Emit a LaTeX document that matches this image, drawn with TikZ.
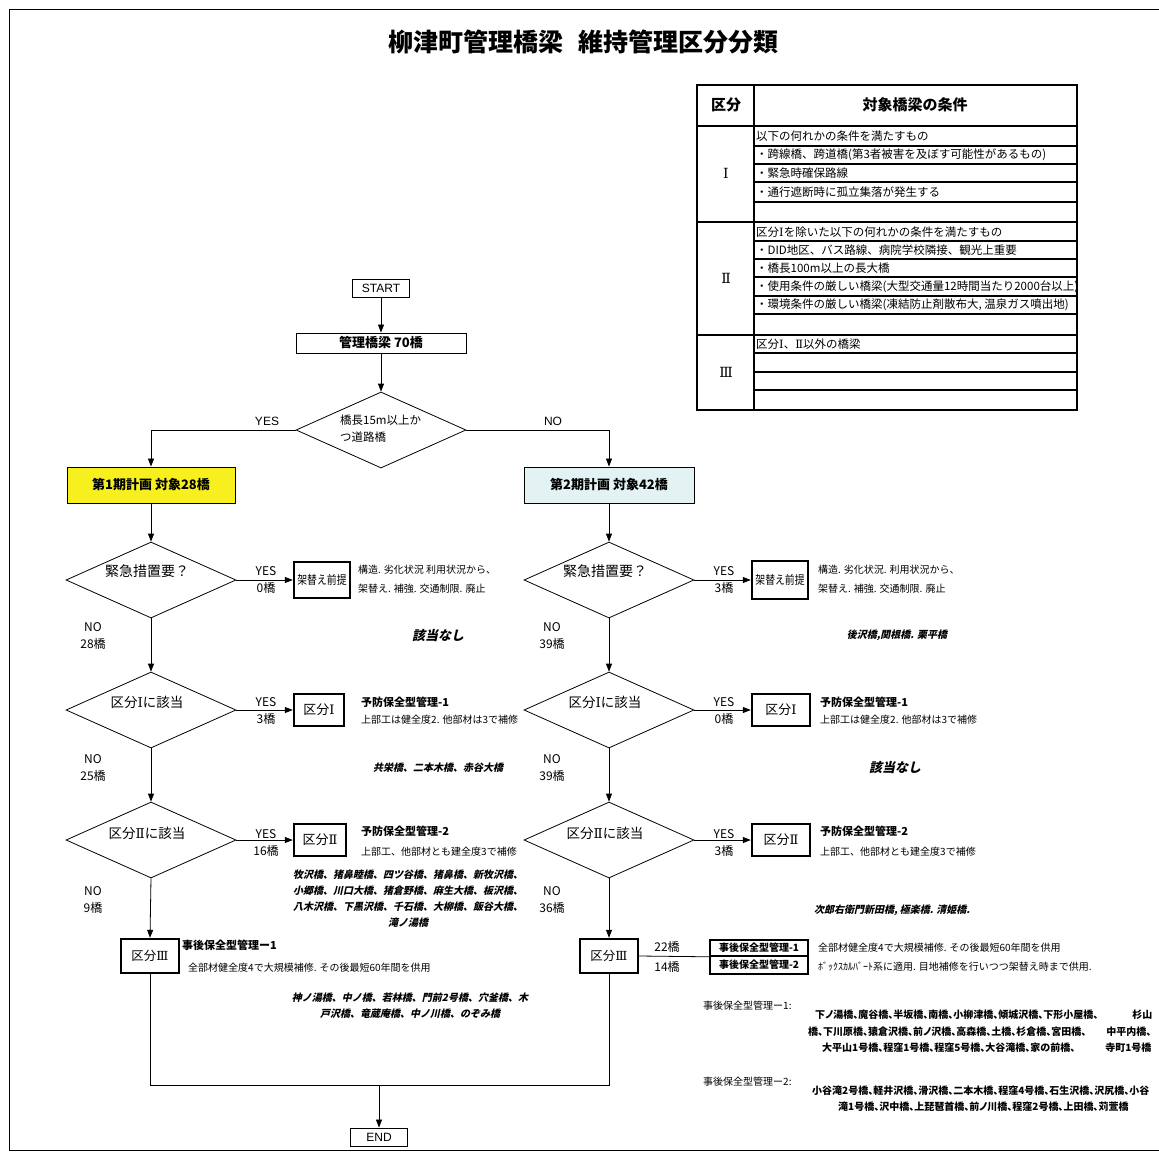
\documentclass[tikz,border=0pt]{standalone}
\usepackage{fontspec}
\setmainfont{Noto Sans CJK JP}
\newfontfamily\jpsl{Noto Sans CJK JP}[FakeSlant=0.22]
\newfontfamily\jpn{Noto Sans CJK JP}[FakeStretch=0.82]
\newfontfamily\jpp{Noto Sans CJK JP}[RawFeature=+palt]
\newfontfamily\rom{DejaVu Serif}
\newfontfamily\lat{Liberation Sans}
\usetikzlibrary{shapes.geometric,arrows.meta}
\definecolor{yel}{HTML}{F7F01E}
\definecolor{cyanl}{HTML}{E3F3F3}
\newcommand{\fz}[1]{\fontsize{#1}{#1}\selectfont}
\newcommand{\RI}{{\rom Ⅰ}}
\newcommand{\RII}{{\rom Ⅱ}}
\newcommand{\RIII}{{\rom Ⅲ}}
\begin{document}
\begin{tikzpicture}[x=1pt,y=-1pt,
 box/.style={draw, line width=0.9pt, inner sep=0pt},
 tbox/.style={draw, line width=2.4pt, inner sep=0pt},
 dia/.style={draw, diamond, line width=0.8pt, minimum width=170pt, minimum height=76pt, inner sep=0pt},
 arr/.style={-{Triangle[length=8pt,width=6pt]}, line width=0.8pt},
 ln/.style={line width=0.8pt},
 txt/.style={inner sep=0pt, anchor=west, align=left},
 ctxt/.style={inner sep=0pt, align=center},
 lbl/.style={inner sep=0pt, align=center, font=\fontsize{12}{17.5}\selectfont},
 rowt/.style={inner sep=0pt, anchor=west, font=\fz{11.5}},
 tl/.style={line width=1.3pt},
 tk/.style={line width=2.2pt},
 ital/.style={inner sep=0pt, align=center, font=\jpsl\bfseries\fontsize{10}{16}\selectfont},
 blist/.style={inner sep=0pt, anchor=west, font=\jpp\bfseries\fz{10}},
]
\useasboundingbox (0,0) rectangle (1159,1159);
\fill[white] (0,0) rectangle (1159,1159);
\draw[line width=1pt] (9,9) rectangle (1180,1150);

% title
\node[ctxt, font=\fz{25}\bfseries] (title) at (583,42) {柳津町管理橋梁\hspace{0.6em}維持管理区分分類};

% table
\draw[tk] (697,85) rectangle (1077,410);
\draw[tk] (697,126) -- (1077,126);
\draw[tk] (754,85) -- (754,410);
\draw[tk] (697,222) -- (1077,222);
\draw[tk] (697,335) -- (1077,335);
\foreach \yy in {146,164,182,202,241,259,277,296,314,353,372,390}
  \draw[tl] (754,\yy) -- (1077,\yy);
\node[ctxt, font=\fz{15}\bfseries] (hk) at (726,105) {区分};
\node[ctxt, font=\fz{15}\bfseries] (hj) at (915,105) {対象橋梁の条件};
\node[ctxt, font=\fz{14}] (s1) at (726,173) {\RI};
\node[ctxt, font=\fz{14}] (s2) at (726,278) {\RII};
\node[ctxt, font=\fz{14}] (s3) at (726,372) {\RIII};
\node[rowt] (r11) at (756,136) {以下の何れかの条件を満たすもの};
\node[rowt] (r12) at (756,155) {・跨線橋、跨道橋(第3者被害を及ぼす可能性があるもの)};
\node[rowt] (r13) at (756,173) {・緊急時確保路線};
\node[rowt] (r14) at (756,192) {・通行遮断時に孤立集落が発生する};
\node[rowt] (r21) at (756,232) {区分\RI を除いた以下の何れかの条件を満たすもの};
\node[rowt] (r22) at (756,250) {・DID地区、バス路線、病院学校隣接、観光上重要};
\node[rowt] (r23) at (756,268) {・橋長100m以上の長大橋};
\node[rowt] (r24) at (756,287) {・使用条件の厳しい橋梁(大型交通量12時間当たり2000台以上)};
\node[rowt] (r25) at (756,305) {・環境条件の厳しい橋梁(凍結防止剤散布大, 温泉ガス噴出地)};
\node[rowt] (r31) at (756,344) {区分\RI 、\RII 以外の橋梁};

% top of flowchart
\node[box, minimum width=57pt, minimum height=18pt, font=\lat\fz{12}] (start) at (381,288) {START};
\node[box, minimum width=170pt, minimum height=20pt, font=\fz{13}\bfseries] (total) at (381,343) {管理橋梁\ 70橋};
\node[dia] (d0) at (381,430) {};
\node[txt, font=\fontsize{11.5}{17}\selectfont] (d0t) at (340,429) {橋長15m以上か\\つ道路橋};
\draw[arr] (start) -- (total);
\draw[arr] (total) -- (d0.north);
\node[box, fill=yel, minimum width=168pt, minimum height=36pt, font=\fz{13}\bfseries] (b1) at (151,485) {第1期計画\ 対象28橋};
\node[box, fill=cyanl, minimum width=170pt, minimum height=36pt, font=\fz{13}\bfseries] (b2) at (609,485) {第2期計画\ 対象42橋};
\draw[arr] (d0.west) -| (b1.north);
\draw[arr] (d0.east) -| (b2.north);
\node[lbl, font=\lat\fz{12}] (yes0) at (267,421) {YES};
\node[lbl, font=\lat\fz{12}] (no0) at (553,421) {NO};

% row 1
\node[dia] (l1) at (151,580) {};
\node[dia] (r1) at (609,580) {};
\node[ctxt, font=\fz{14}] (l1t) at (147,571) {緊急措置要？};
\node[ctxt, font=\fz{14}] (r1t) at (605,571) {緊急措置要？};
\draw[arr] (b1.south) -- (l1.north);
\draw[arr] (b2.south) -- (r1.north);
\node[tbox, minimum width=56pt, minimum height=36pt, font=\jpn\fz{12}] (kl) at (322,580) {架替え前提};
\node[tbox, minimum width=56pt, minimum height=38pt, font=\jpn\fz{12}] (kr) at (780,580) {架替え前提};
\draw[arr] (l1.east) -- (kl.west);
\draw[arr] (r1.east) -- (kr.west);
\node[lbl] (ly1) at (266,580) {YES\\0橋};
\node[lbl] (ry1) at (724,580) {YES\\3橋};
\node[txt, font=\fontsize{10}{19}\selectfont] (lt1) at (358,579) {構造. 劣化状況 利用状況から、\\架替え. 補強. 交通制限. 廃止};
\node[txt, font=\fontsize{10}{19}\selectfont] (rt1) at (818,579) {構造. 劣化状況. 利用状況から、\\架替え. 補強. 交通制限. 廃止};
\node[ital, font=\jpsl\bfseries\fz{13}] (lg1) at (438,636) {該当なし};
\node[ital] (rg1) at (897,635) {後沢橋,関根橋. 栗平橋};
\node[lbl] (ln1) at (93,636) {NO\\28橋};
\node[lbl] (rn1) at (552,636) {NO\\39橋};

% row 2
\node[dia] (l2) at (151,710) {};
\node[dia] (r2) at (609,710) {};
\node[ctxt, font=\fz{13.5}] (l2t) at (147,702) {区分\RI に該当};
\node[ctxt, font=\fz{13.5}] (r2t) at (605,702) {区分\RI に該当};
\draw[arr] (l1.south) -- (l2.north);
\draw[arr] (r1.south) -- (r2.north);
\node[tbox, minimum width=50pt, minimum height=32pt, font=\fz{13}] (k2l) at (319,710) {区分\RI};
\node[tbox, minimum width=58pt, minimum height=32pt, font=\fz{13}] (k2r) at (781,710) {区分\RI};
\draw[arr] (l2.east) -- (k2l.west);
\draw[arr] (r2.east) -- (k2r.west);
\node[lbl] (ly2) at (266,711) {YES\\3橋};
\node[lbl] (ry2) at (724,711) {YES\\0橋};
\node[txt, font=\fz{11}\bfseries] (lp2) at (361,702) {予防保全型管理-1};
\node[txt, font=\fz{10}] (lq2) at (361,720) {上部工は健全度2. 他部材は3で補修};
\node[txt, font=\fz{11}\bfseries] (rp2) at (820,702) {予防保全型管理-1};
\node[txt, font=\fz{10}] (rq2) at (820,720) {上部工は健全度2. 他部材は3で補修};
\node[ital] (lg2) at (438,768) {共栄橋、二本木橋、赤谷大橋};
\node[ital, font=\jpsl\bfseries\fz{13}] (rg2) at (895,768) {該当なし};
\node[lbl] (ln2) at (93,768) {NO\\25橋};
\node[lbl] (rn2) at (552,768) {NO\\39橋};

% row 3
\node[dia] (l3) at (151,840) {};
\node[dia] (r3) at (609,840) {};
\node[ctxt, font=\fz{13.5}] (l3t) at (147,833) {区分\RII に該当};
\node[ctxt, font=\fz{13.5}] (r3t) at (605,833) {区分\RII に該当};
\draw[arr] (l2.south) -- (l3.north);
\draw[arr] (r2.south) -- (r3.north);
\node[tbox, minimum width=52pt, minimum height=32pt, font=\fz{13}] (k3l) at (320,840) {区分\RII};
\node[tbox, minimum width=58pt, minimum height=32pt, font=\fz{13}] (k3r) at (781,840) {区分\RII};
\draw[arr] (l3.east) -- (k3l.west);
\draw[arr] (r3.east) -- (k3r.west);
\node[lbl] (ly3) at (266,843) {YES\\16橋};
\node[lbl] (ry3) at (724,843) {YES\\3橋};
\node[txt, font=\fz{11}\bfseries] (lp3) at (361,831) {予防保全型管理-2};
\node[txt, font=\fz{10}] (lq3) at (361,852) {上部工、他部材とも建全度3で補修};
\node[txt, font=\fz{11}\bfseries] (rp3) at (820,831) {予防保全型管理-2};
\node[txt, font=\fz{10}] (rq3) at (820,852) {上部工、他部材とも建全度3で補修};
\node[ital] (lg3) at (408,899) {牧沢橋、猪鼻睦橋、四ツ谷橋、猪鼻橋、新牧沢橋、\\小郷橋、川口大橋、猪倉野橋、麻生大橋、板沢橋、\\八木沢橋、下黒沢橋、千石橋、大柳橋、飯谷大橋、\\滝ノ湯橋};
\node[ital] (rg3) at (892,910) {次郎右衛門新田橋, 極楽橋. 清姫橋.};
\node[lbl] (ln3) at (93,900) {NO\\9橋};
\node[lbl] (rn3) at (552,900) {NO\\36橋};

% row 4
\node[tbox, minimum width=58pt, minimum height=34pt, font=\fz{12.5}] (k4l) at (150,956) {区分\RIII};
\node[tbox, minimum width=58pt, minimum height=34pt, font=\fz{12.5}] (k4r) at (609,956) {区分\RIII};
\draw[arr] (l3.south) -- (k4l.north);
\draw[arr] (r3.south) -- (k4r.north);
\node[txt, font=\fz{11}\bfseries] (lp4) at (182,945) {事後保全型管理ー1};
\node[txt, font=\fz{10}] (lq4) at (188,968) {全部材健全度4で大規模補修. その後最短60年間を供用};
\node[ital] (lg4) at (410,1006) {神ノ湯橋、中ノ橋、若林橋、門前2号橋、穴釜橋、木\\戸沢橋、竜蔵庵橋、中ノ川橋、のぞみ橋};
\node[box, line width=1.6pt, minimum width=98pt, minimum height=16pt, font=\fz{10}\bfseries] (m1) at (759,948) {事後保全型管理-1};
\node[box, line width=1.6pt, minimum width=98pt, minimum height=18pt, font=\fz{10}\bfseries] (m2) at (759,965) {事後保全型管理-2};
\draw[ln] (k4r.east) -- (m1.south west);
\node[lbl] (n22) at (667,947) {22橋};
\node[lbl] (n14) at (667,967) {14橋};
\node[txt, font=\fz{10}] (mt1) at (818,948) {全部材健全度4で大規模補修. その後最短60年間を供用};
\node[txt, font=\fz{10}] (mt2) at (818,967) {ﾎﾞｯｸｽｶﾙﾊﾞｰﾄ系に適用. 目地補修を行いつつ架替え時まで供用.};

\node[txt, font=\fz{10}] (h1) at (703,1006) {事後保全型管理ー1:};
\node[blist] (h1a) at (815,1015) {下ノ湯橋、魔谷橋、半坂橋、南橋、小柳津橋、傾城沢橋、下形小屋橋、\hspace{3.4em}杉山};
\node[blist] (h1b) at (808,1032) {橋、下川原橋、猿倉沢橋、前ノ沢橋、高森橋、土橋、杉倉橋、宮田橋、\hspace{2em}中平内橋、};
\node[blist] (h1c) at (822,1048) {大平山1号橋、程窪1号橋、程窪5号橋、大谷滝橋、家の前橋、\hspace{3em}寺町1号橋};
\node[txt, font=\fz{10}] (h2) at (703,1082) {事後保全型管理ー2:};
\node[blist] (h2a) at (812,1091) {小谷滝2号橋、軽井沢橋、滑沢橋、二本木橋、程窪4号橋、石生沢橋、沢尻橋、小谷};
\node[blist] (h2b) at (838,1107) {滝1号橋、沢中橋、上琵琶首橋、前ノ川橋、程窪2号橋、上田橋、苅萱橋};

% end
\coordinate (jl) at (150,1085);
\coordinate (jr) at (609,1085);
\coordinate (jm) at (379,1085);
\node[box, minimum width=57pt, minimum height=18pt, font=\lat\fz{12}] (end) at (379,1137) {END};
\draw[ln] (k4l.south) -- (jl) -- (jr) -- (k4r.south);
\draw[arr] (jm) -- (end.north);
\end{tikzpicture}
\end{document}
